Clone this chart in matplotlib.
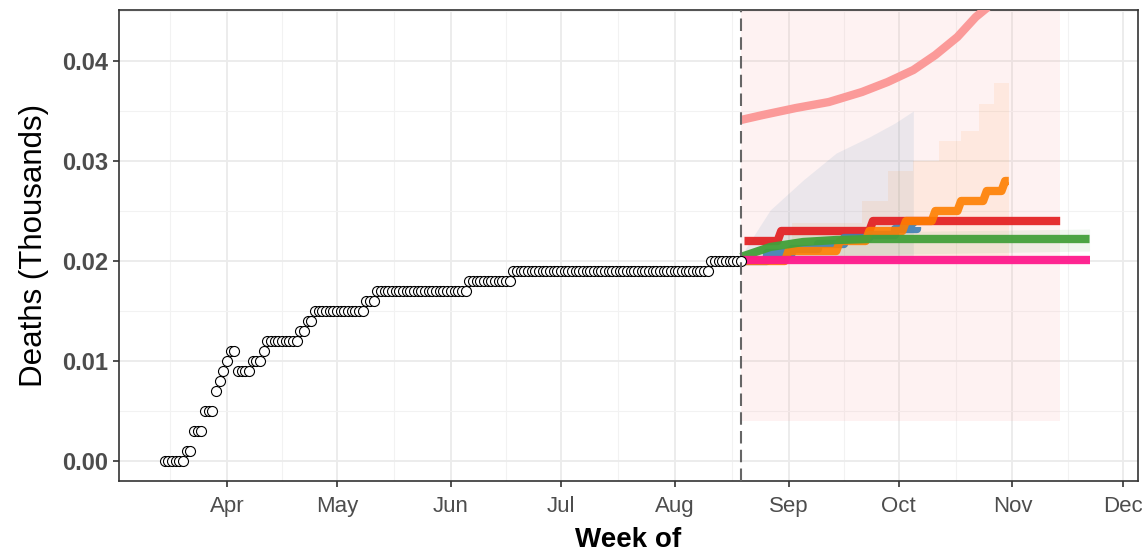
import datetime as dt
import numpy as np
import matplotlib
matplotlib.use("Agg")
import matplotlib.pyplot as plt
import matplotlib.dates as mdates

# observed cumulative deaths (thousands), run-length: value, number of days
OBS_START = dt.date(2020, 3, 15)
obs_levels = [0.000, 0.001, 0.003, 0.005, 0.007, 0.008, 0.009, 0.010, 0.011, 0.009, 0.010,
              0.011, 0.012, 0.013, 0.014, 0.015, 0.016, 0.017, 0.018, 0.019, 0.020]
obs_days = [6, 2, 3, 3, 1, 1, 1, 1, 2, 4, 3, 1, 9, 2, 2, 14, 3, 25, 12, 54, 9]

FORECAST_DATE = dt.date(2020, 8, 19)

# salmon model (runs off the top)
salmon_dates = ["2020-08-19", "2020-08-25", "2020-09-03", "2020-09-12", "2020-09-21", "2020-09-28",
                "2020-10-05", "2020-10-11", "2020-10-17", "2020-10-22", "2020-10-25", "2020-11-01",
                "2020-11-14"]
salmon_vals = [0.0341, 0.0346, 0.0353, 0.0359, 0.0369, 0.0379, 0.0391, 0.0406, 0.0424, 0.0444,
               0.0453, 0.0490, 0.0560]

# red model: flat segments (start, end, value)
red_start = ["2020-08-20", "2020-08-30", "2020-09-24"]
red_end = ["2020-08-29", "2020-09-23", "2020-11-14"]
red_vals = [0.022, 0.023, 0.024]

blue_dates = ["2020-08-19", "2020-08-26", "2020-09-02", "2020-09-09", "2020-09-16", "2020-09-23",
              "2020-09-30", "2020-10-06"]
blue_vals = [0.0200, 0.0208, 0.0212, 0.0217, 0.0223, 0.0226, 0.0232, 0.0234]

orange_start = ["2020-08-19", "2020-09-01", "2020-09-15", "2020-09-23", "2020-10-03", "2020-10-11",
                "2020-10-18", "2020-10-25", "2020-10-30"]
orange_end = ["2020-08-31", "2020-09-14", "2020-09-22", "2020-10-02", "2020-10-10", "2020-10-17",
              "2020-10-24", "2020-10-29", "2020-10-31"]
orange_vals = [0.020, 0.021, 0.022, 0.023, 0.024, 0.025, 0.026, 0.027, 0.028]

green_dates = ["2020-08-19", "2020-08-27", "2020-09-05", "2020-09-14", "2020-09-23", "2020-11-22"]
green_vals = [0.0204, 0.0214, 0.0219, 0.0221, 0.0222, 0.0222]

pink_dates = ["2020-08-19", "2020-11-22"]
pink_vals = [0.0201, 0.0201]

# uncertainty bands
band_salmon_dates = ["2020-08-19", "2020-11-14"]
band_salmon_lo = [0.004, 0.004]
band_salmon_hi = [0.060, 0.060]

band_blue_dates = ["2020-08-19", "2020-08-27", "2020-09-05", "2020-09-14", "2020-09-23",
                   "2020-09-30", "2020-10-05"]
band_blue_lo = [0.0200, 0.0200, 0.0200, 0.0200, 0.0200, 0.0200, 0.0200]
band_blue_hi = [0.0205, 0.0251, 0.0281, 0.0308, 0.0324, 0.0338, 0.0350]

band_orange_dates = ["2020-08-19", "2020-08-26", "2020-09-02", "2020-09-21", "2020-09-28",
                     "2020-10-05", "2020-10-12", "2020-10-18", "2020-10-23", "2020-10-27",
                     "2020-10-31"]
band_orange_lo = [0.020, 0.020, 0.020, 0.020, 0.020, 0.020, 0.020, 0.020, 0.020, 0.020, 0.020]
band_orange_hi = [0.020, 0.022, 0.0238, 0.026, 0.029, 0.030, 0.032, 0.033, 0.0357, 0.0378, 0.039]

band_green_dates = ["2020-08-19", "2020-09-01", "2020-11-22"]
band_green_lo = [0.0200, 0.0205, 0.0210]
band_green_hi = [0.0205, 0.0228, 0.0232]

C_SALMON = "#FB9A99"
C_RED = "#E31A1C"
C_BLUE = "#3F7FB3"
C_ORANGE = "#FF7F00"
C_GREEN = "#43A03A"
C_PINK = "#FF1A8C"


def d(strs):
    return mdates.date2num([np.datetime64(s) for s in strs])


def segs(starts, ends, vals):
    xs, ys = [], []
    for s, e, v in zip(d(starts), d(ends), vals):
        xs += [s, e]
        ys += [v, v]
    return xs, ys


def main():
    plt.rcParams["font.family"] = ["Liberation Sans", "DejaVu Sans"]
    fig = plt.figure(figsize=(11.42, 5.51), dpi=100)
    ax = fig.add_axes([119 / 1142, 1 - 481 / 551, (1138 - 119) / 1142, (481 - 10) / 551])

    # observed points
    obs_y = np.repeat(obs_levels, obs_days)
    obs_x = mdates.date2num(OBS_START) + np.arange(len(obs_y))

    # bands
    ax.fill_between(d(band_salmon_dates), band_salmon_lo, band_salmon_hi, color=C_SALMON,
                    alpha=0.12, lw=0, zorder=2)
    ax.fill_between(d(band_blue_dates), band_blue_lo, band_blue_hi, color="#4682B4",
                    alpha=0.10, lw=0, zorder=2)
    ax.fill_between(d(band_orange_dates), band_orange_lo, band_orange_hi, color=C_ORANGE,
                    alpha=0.08, lw=0, step="post", zorder=2)
    ax.fill_between(d(band_green_dates), band_green_lo, band_green_hi, color=C_GREEN,
                    alpha=0.08, lw=0, zorder=2)

    lw = 6.0
    ax.plot(d(salmon_dates), salmon_vals, color=C_SALMON, lw=lw, solid_capstyle="butt", zorder=3)
    rx, ry = segs(red_start, red_end, red_vals)
    ax.plot(rx, ry, color=C_RED, lw=lw, alpha=0.9, solid_capstyle="butt", zorder=3)
    ax.plot(d(blue_dates), blue_vals, color=C_BLUE, lw=lw, alpha=0.9, drawstyle="steps-post",
            solid_capstyle="butt", zorder=3)
    ox, oy = segs(orange_start, orange_end, orange_vals)
    ax.plot(ox, oy, color=C_ORANGE, lw=lw, alpha=0.9, solid_capstyle="butt", zorder=3)
    ax.plot(d(green_dates), green_vals, color=C_GREEN, lw=lw, alpha=0.95, solid_capstyle="butt",
            zorder=3)
    ax.plot(d(pink_dates), pink_vals, color=C_PINK, lw=lw, alpha=0.95, solid_capstyle="butt",
            zorder=3)

    ax.scatter(obs_x, obs_y, s=52, facecolor="white", edgecolor="black", linewidth=0.8, zorder=4)

    ax.axvline(mdates.date2num(FORECAST_DATE), color="#666666", lw=1.5, ls=(0, (6, 3)), zorder=5)

    months = [dt.date(2020, m, 1) for m in range(3, 13)] + [dt.date(2021, 1, 1)]
    mnum = mdates.date2num(months)
    ax.set_xticks(mnum[1:-1])
    ax.set_xticklabels([m.strftime("%b") for m in months[1:-1]])
    ax.set_xticks((mnum[:-1] + mnum[1:]) / 2, minor=True)
    ax.set_yticks([0.00, 0.01, 0.02, 0.03, 0.04])
    ax.set_yticklabels(["0.00", "0.01", "0.02", "0.03", "0.04"])
    ax.set_yticks([0.005, 0.015, 0.025, 0.035, 0.045], minor=True)

    apr1 = mdates.date2num(dt.date(2020, 4, 1))
    ax.set_xlim(apr1 - 29.4, apr1 + 248.2)
    ax.set_ylim(-0.002, 0.0451)

    ax.grid(which="major", color="#EBEBEB", lw=1.3, zorder=0)
    ax.grid(which="minor", color="#F2F2F2", lw=0.8, zorder=0)
    ax.set_axisbelow(True)

    for s in ax.spines.values():
        s.set_color("#333333")
        s.set_linewidth(1.2)
    ax.tick_params(which="major", length=4, width=1.2, color="#333333", labelcolor="#4D4D4D")
    ax.tick_params(which="minor", length=0)
    ax.tick_params(axis="x", labelsize=16, pad=7)
    ax.tick_params(axis="y", labelsize=17, pad=4)
    for t in ax.get_yticklabels():
        t.set_fontweight("bold")

    ax.set_xlabel("Week of", fontsize=20, fontweight="bold", labelpad=7)
    ax.set_ylabel("Deaths (Thousands)", fontsize=22.5, labelpad=9)

    fig.savefig("out.png", dpi=100)


if __name__ == "__main__":
    main()
